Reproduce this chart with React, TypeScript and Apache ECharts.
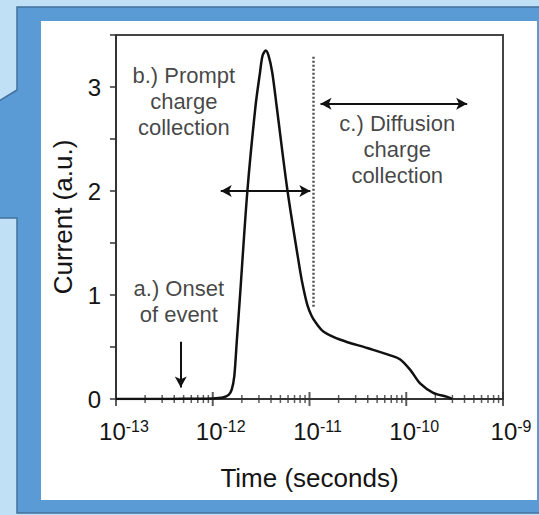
import React, { useEffect, useRef } from "react";
import * as echarts from "echarts";

// ---- data ----
const timeSeconds = [
  1e-13, 3e-13, 6e-13, 1.0e-12, 1.27e-12, 1.46e-12, 1.57e-12, 1.67e-12, 1.77e-12, 1.9e-12,
  2.28e-12, 2.77e-12, 3.08e-12, 3.27e-12, 3.52e-12, 3.78e-12, 4.12e-12, 4.57e-12, 5.93e-12,
  8.07e-12, 8.67e-12, 9.53e-12, 1.05e-11, 1.15e-11, 1.39e-11, 2.09e-11, 3.96e-11, 6.84e-11,
  8.67e-11, 1.1e-10, 1.39e-10, 1.9e-10, 2.65e-10, 2.98e-10,
];
const currentAU = [
  0, 0, 0.003, 0.006, 0.015, 0.04, 0.09, 0.22, 0.55, 0.95,
  2.0, 2.82, 3.14, 3.3, 3.35, 3.3, 3.14, 2.82, 2.0,
  1.21, 1.06, 0.9, 0.8, 0.74, 0.65, 0.57, 0.49, 0.42,
  0.38, 0.28, 0.15, 0.06, 0.02, 0,
];

const xMin = 1e-13;
const xMax = 1e-9;
const yMax = 3.5;
const decadeExponents = [-13, -12, -11, -10, -9];
const minorMultipliers = [2, 3, 4, 5, 6, 7, 8, 9];

// annotations: [startTime, endTime, startCurrent, endCurrent]
const promptArrow = [1.21e-12, 1.02e-11, 2.0, 2.0];
const diffusionArrow = [1.3e-11, 4.26e-10, 2.84, 2.84];
const onsetArrow = [4.67e-13, 4.67e-13, 0.55, 0.11];
const boundaryLine = [1.1e-11, 1.1e-11, 3.29, 0.88];

const annotationTexts = [
  "b.) Prompt\ncharge\ncollection",
  "c.) Diffusion\ncharge\ncollection",
  "a.) Onset\nof event",
];
const annotationTimes = [5.02e-13, 8.07e-11, 4.46e-13];
const annotationCurrents = [2.86, 2.4, 0.94];

const xAxisTitle = "Time (seconds)";
const yAxisTitle = "Current (a.u.)";

const FONT = "Arial, 'Liberation Sans', sans-serif";
const INK = "#141414";

function buildOption() {
  const majorTicks = decadeExponents.map((e) => [Math.pow(10, e), 0]);
  const minorTicks: number[][] = [];
  decadeExponents.slice(0, -1).forEach((e) => {
    minorMultipliers.forEach((m) => minorTicks.push([m * Math.pow(10, e), 0]));
  });

  const seg = (a: number[]) => [
    { coord: [a[0], a[2]] },
    { coord: [a[1], a[3]] },
  ];

  return {
    animation: false,
    backgroundColor: "#c0e0f6",
    graphic: {
      elements: [
        {
          type: "polygon",
          z: -10,
          silent: true,
          shape: {
            points: [
              [17, 7], [545, 7], [545, 513], [17, 513], [17, 218],
              [-6, 218], [-6, 104], [17, 90],
            ],
          },
          style: { fill: "#5b9bd5", stroke: "#41719c", lineWidth: 1.5 },
        },
        {
          type: "rect",
          z: -9,
          silent: true,
          shape: { x: 41, y: 21, width: 496, height: 479 },
          style: { fill: "#ffffff" },
        },
      ],
    },
    grid: {
      left: 116,
      right: 36,
      top: 35,
      bottom: 116,
      show: true,
      borderColor: "#444",
      borderWidth: 2,
      backgroundColor: "transparent",
    },
    xAxis: {
      type: "log",
      logBase: 10,
      min: xMin,
      max: xMax,
      splitNumber: 4,
      name: xAxisTitle,
      nameLocation: "middle",
      nameGap: 66,
      nameTextStyle: { fontFamily: FONT, fontSize: 26, color: INK },
      axisLine: { lineStyle: { color: "#333", width: 2 } },
      axisTick: { show: false },
      splitLine: { show: false },
      axisLabel: {
        margin: 19,
        padding: [0, 0, 0, 16],
        color: INK,
        fontFamily: FONT,
        formatter: (v: number) => `{b|10}{s|${Math.round(Math.log10(v))}}`,
        rich: {
          b: { fontSize: 24, lineHeight: 27, fontFamily: FONT, color: INK },
          s: { fontSize: 16, lineHeight: 27, verticalAlign: "top", fontFamily: FONT, color: INK },
        },
      },
    },
    yAxis: {
      type: "value",
      min: 0,
      max: yMax,
      interval: 0.5,
      name: yAxisTitle,
      nameLocation: "middle",
      nameGap: 40,
      nameTextStyle: { fontFamily: FONT, fontSize: 26, color: INK },
      axisLine: { show: true, lineStyle: { color: "#333", width: 2 } },
      axisTick: { show: true, inside: false, length: 6, lineStyle: { color: "#333", width: 1.5 } },
      splitLine: { show: false },
      axisLabel: {
        margin: 15,
        fontSize: 24,
        fontFamily: FONT,
        color: INK,
        formatter: (v: number) => (Number.isInteger(v) && v <= 3 ? String(v) : ""),
      },
    },
    series: [
      {
        type: "line",
        data: timeSeconds.map((t, i) => [t, currentAU[i]]),
        showSymbol: false,
        smooth: 0.3,
        lineStyle: { color: "#111", width: 2.5 },
        z: 4,
        silent: true,
      },
      {
        type: "scatter",
        data: majorTicks,
        symbol: "rect",
        symbolSize: [2, 14],
        itemStyle: { color: "#333" },
        clip: false,
        silent: true,
        z: 3,
      },
      {
        type: "scatter",
        data: minorTicks,
        symbol: "rect",
        symbolSize: [1.5, 8],
        itemStyle: { color: "#333" },
        clip: false,
        silent: true,
        z: 3,
      },
      {
        type: "line",
        data: [],
        silent: true,
        markLine: {
          silent: true,
          animation: false,
          symbol: ["arrow", "arrow"],
          symbolSize: [9, 11],
          label: { show: false },
          lineStyle: { color: "#111", width: 2, type: "solid" },
          data: [seg(promptArrow), seg(diffusionArrow)],
        },
      },
      {
        type: "line",
        data: [],
        silent: true,
        markLine: {
          silent: true,
          animation: false,
          symbol: ["none", "arrow"],
          symbolSize: [9, 11],
          label: { show: false },
          lineStyle: { color: "#111", width: 2, type: "solid" },
          data: [seg(onsetArrow)],
        },
      },
      {
        type: "line",
        data: [],
        silent: true,
        markLine: {
          silent: true,
          animation: false,
          symbol: ["none", "none"],
          label: { show: false },
          lineStyle: { color: "#555", width: 2.5, type: [2, 2] },
          data: [seg(boundaryLine)],
        },
      },
      {
        type: "scatter",
        symbolSize: 0,
        silent: true,
        clip: false,
        data: annotationTimes.map((t, i) => ({
          value: [t, annotationCurrents[i]],
          label: { formatter: annotationTexts[i] },
        })),
        label: {
          show: true,
          position: "inside",
          fontFamily: FONT,
          fontSize: 22,
          lineHeight: 26,
          color: INK,
          align: "center",
          verticalAlign: "middle",
        },
        z: 5,
      },
    ],
  };
}

export default function App() {
  const ref = useRef<HTMLDivElement>(null);
  useEffect(() => {
    if (!ref.current) return;
    const chart = echarts.init(ref.current, null, { renderer: "svg" });
    chart.setOption(buildOption() as any);
    return () => chart.dispose();
  }, []);
  return (
    <div
      ref={ref}
      style={{ position: "fixed", left: 0, top: 0, width: 539, height: 515 }}
    />
  );
}
